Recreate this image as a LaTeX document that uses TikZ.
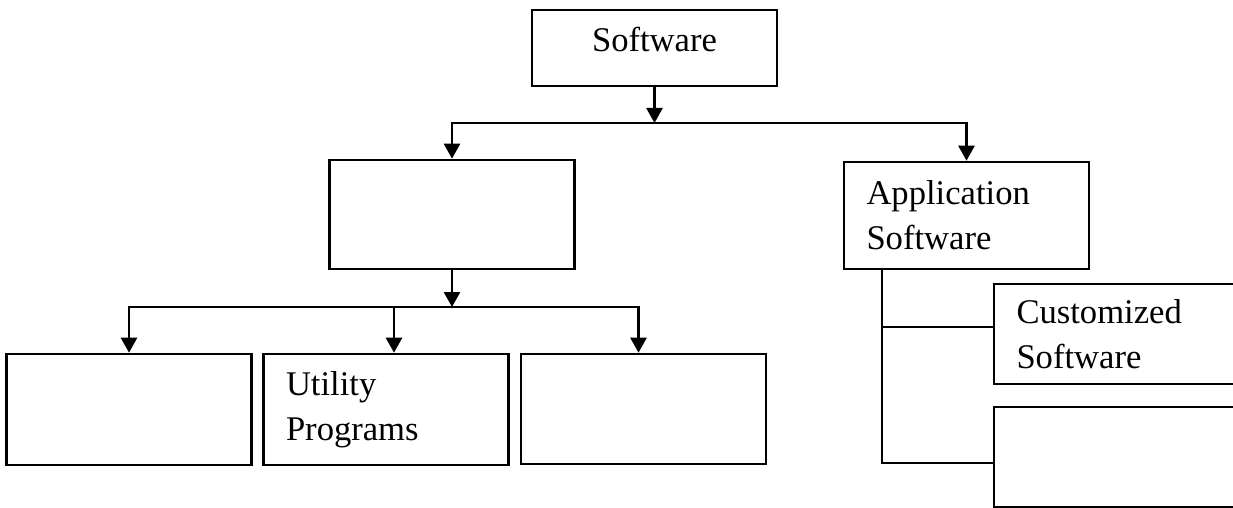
\documentclass[tikz,border=0pt]{standalone}
\usepackage{fontspec}
\setmainfont{Liberation Serif}
\usetikzlibrary{arrows.meta}

\begin{document}
\begin{tikzpicture}[x=0.5pt, y=-0.5pt, line width=1.3pt,
  box/.style={draw, rectangle, minimum width=122.5pt, inner ysep=0pt, inner xsep=11pt,
    text width=100pt, align=left, font=\fontsize{17.3}{22.5}\selectfont},
  tip/.style={-{Triangle[width=8pt, length=7.5pt]}}]

\useasboundingbox (0,0) rectangle (1233,508);

% Boxes
\node[box, align=center, minimum height=38pt, text height=12pt, text depth=8pt] (sw) at (654.5,48) {Software};

\node[box, minimum height=54.5pt] (sysSw) at (452,214.5) {};
\node[box, minimum height=53.5pt] (appSw) at (966.5,215.5) {Application\\Software};

\node[box, minimum height=55.5pt] (langTr) at (129,409.5) {};
\node[box, minimum height=55.5pt] (util) at (386,409.5) {Utility\\Programs};
\node[box, minimum height=55pt] (osSw) at (643.5,409) {};

\node[box, minimum height=50pt] (custSw) at (1116.5,334) {Customized\\Software};
\node[box, minimum height=50pt] (pkgSw) at (1116.5,457) {};

% Top level
\coordinate (busTop) at (654.5,123);
\draw[tip] (sw) -- (busTop);
\draw[tip] (busTop) -| (sysSw.north);
\draw[tip] (busTop) -| (appSw.north);

% System branch
\coordinate (busMid) at (452,307);
\draw[tip] (sysSw) -- (busMid);
\draw[tip] (busMid) -| (langTr.north);
\draw[tip] (busMid) -| ([xshift=4pt]util.north);
\draw[tip] (busMid) -| ([xshift=-2.5pt]osSw.north);

% Application branch
\coordinate (fork) at (882,327);
\coordinate (trunk) at (882,463);
\draw (appSw.south -| trunk) -- (trunk) -- (trunk -| pkgSw.west);
\draw (fork) -- (fork -| custSw.west);

\end{tikzpicture}
\end{document}
